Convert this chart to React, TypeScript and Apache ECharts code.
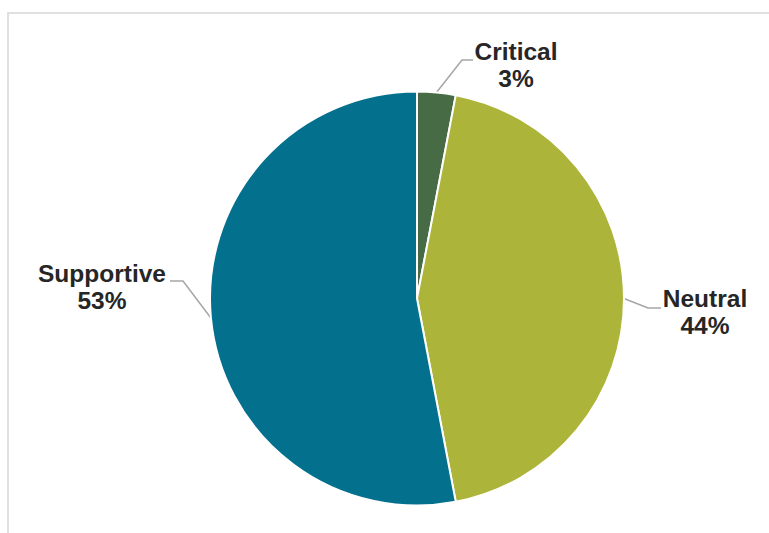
import React, { useEffect, useRef } from "react";
import * as echarts from "echarts";

const categories = ["Critical", "Neutral", "Supportive"];
const values = [3, 44, 53];
const colors = ["#476b45", "#acb43a", "#03708e"];

// label anchor (center of text block) and elbow/end of leader lines
const labelAnchors = [
  { x: 516, y: 65, elbow: [462, 60], end: [473, 60] },
  { x: 705, y: 312, elbow: [648, 308], end: [661, 308] },
  { x: 102, y: 287, elbow: [183, 281], end: [170, 281] },
];

export default function App() {
  const ref = useRef<HTMLDivElement>(null);
  useEffect(() => {
    if (!ref.current) return;
    const chart = echarts.init(ref.current, null, { renderer: "svg" });
    chart.setOption({
      animation: false,
      backgroundColor: "#ffffff",
      graphic: [
        {
          type: "rect",
          shape: { x: 8, y: 13, width: 900, height: 700 },
          style: { fill: "none", stroke: "#e0e0e0", lineWidth: 2 },
          silent: true,
        },
      ],
      series: [
        {
          type: "pie",
          center: [417, 298.5],
          radius: [0, 207],
          startAngle: 90,
          clockwise: true,
          data: categories.map((c, i) => ({
            name: c,
            value: values[i],
            itemStyle: { color: colors[i] },
          })),
          itemStyle: { borderColor: "#ffffff", borderWidth: 2 },
          label: {
            show: true,
            position: "outside",
            formatter: (p: any) => `${p.name}\n${p.value}%`,
            fontFamily: "'Liberation Sans', Arial, sans-serif",
            fontWeight: "bold",
            fontSize: 24.5,
            lineHeight: 27,
            color: "#262626",
            align: "center",
          },
          labelLine: {
            show: true,
            length: 20,
            length2: 10,
            smooth: false,
            lineStyle: { color: "#a6a6a6", width: 1.5 },
          },
          labelLayout: (params: any) => {
            const a = labelAnchors[params.dataIndex];
            const start =
              params.labelLinePoints && params.labelLinePoints[0]
                ? params.labelLinePoints[0]
                : a.elbow;
            return {
              x: a.x,
              y: a.y,
              align: "center",
              verticalAlign: "middle",
              labelLinePoints: [start, a.elbow, a.end],
            };
          },
          emphasis: { disabled: true },
        },
      ],
    });
    return () => chart.dispose();
  }, []);
  return (
    <div
      ref={ref}
      style={{ position: "fixed", left: 0, top: 0, width: 769, height: 533 }}
    />
  );
}
